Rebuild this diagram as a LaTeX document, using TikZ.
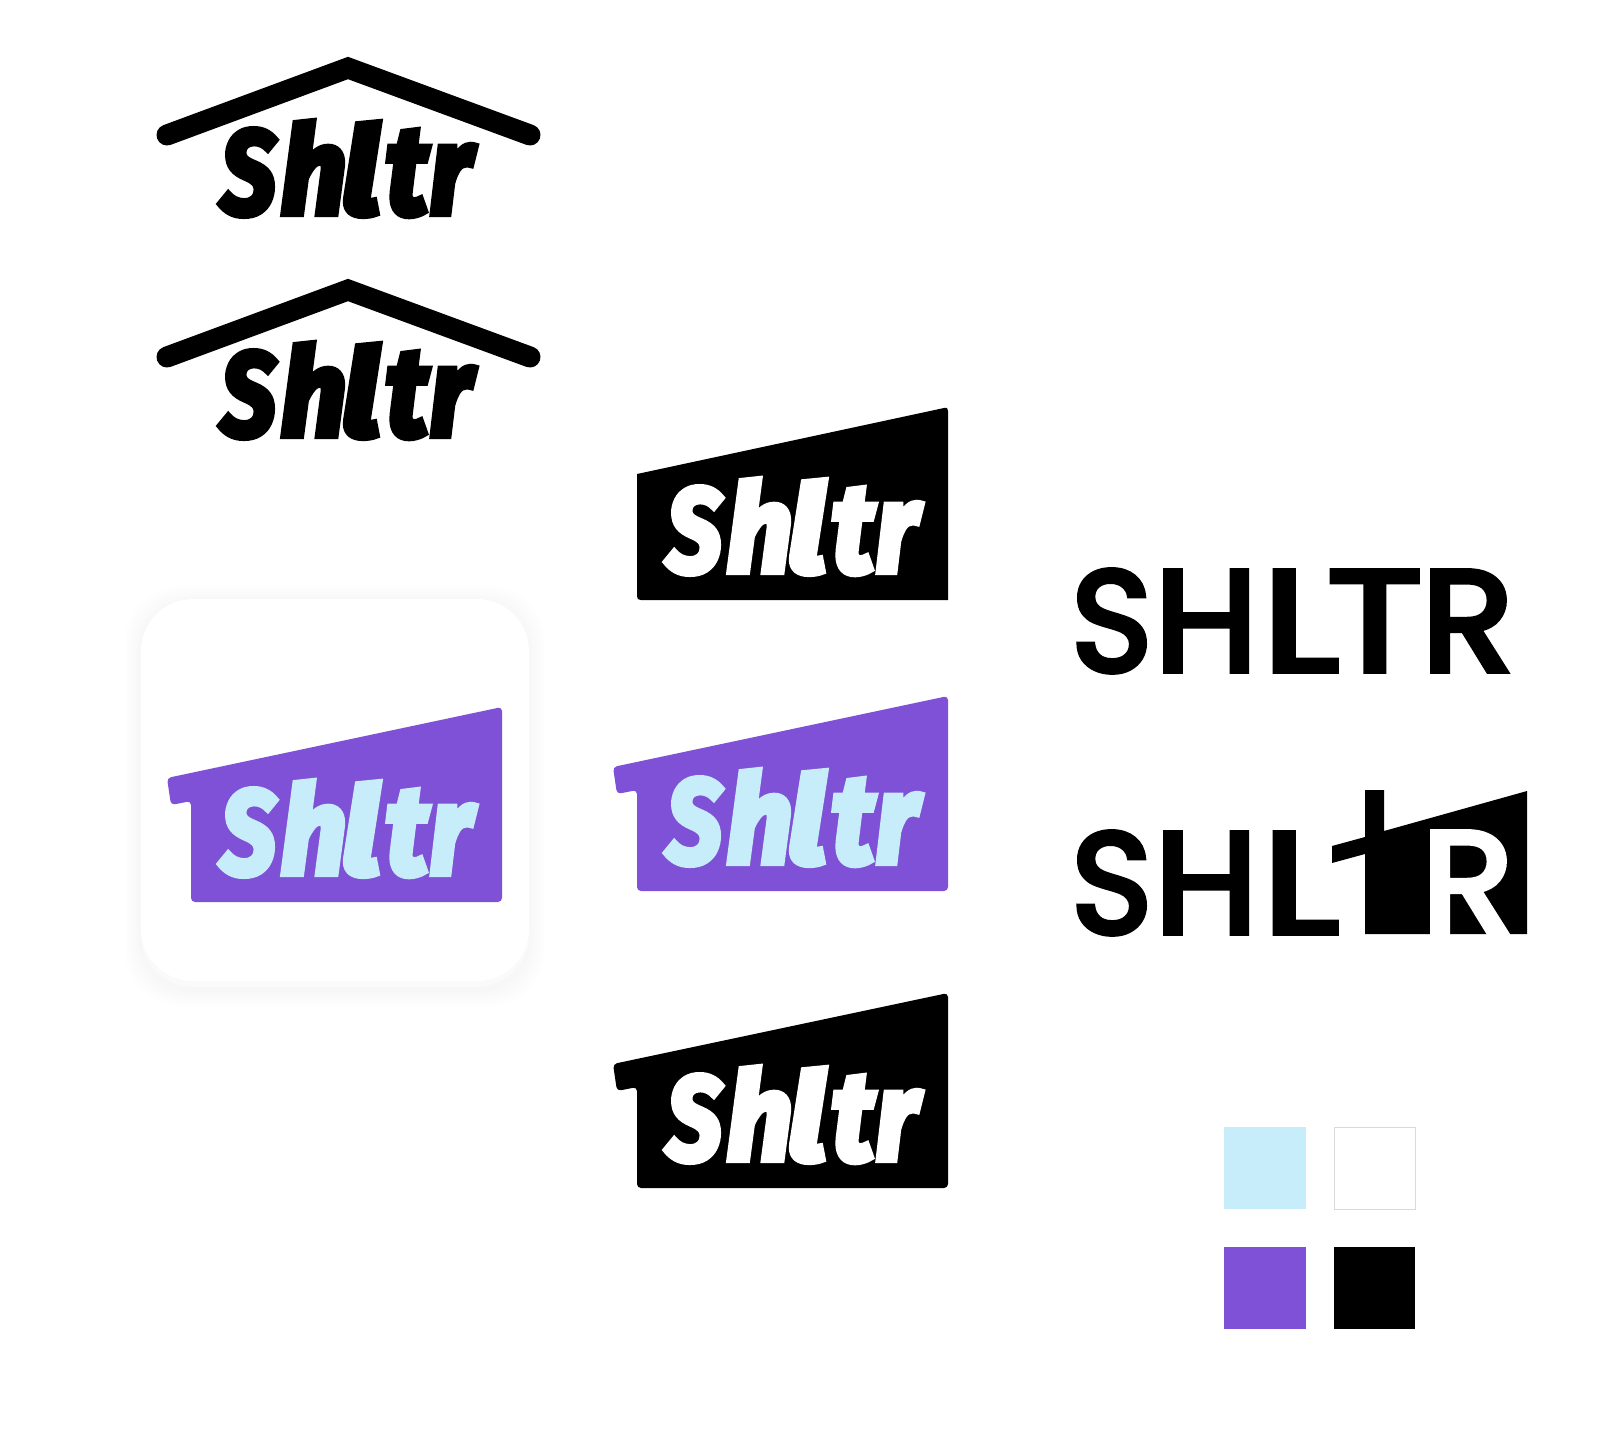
\documentclass[tikz,border=0pt]{standalone}
\usepackage{fontspec}
\usepackage{graphicx}
\newfontfamily\logof[BoldItalicFeatures={FakeBold=5}]{Fira Sans}
\newfontfamily\capsf[FakeBold=4]{Poppins}
\definecolor{sky}{HTML}{C7ECFA}
\definecolor{grape}{HTML}{7F51D6}
\definecolor{iconedge}{HTML}{FAFAFA}
\definecolor{swatchedge}{HTML}{D9D9D9}
\newcommand{\inkglyph}[1]{\hbox{\kern-\XeTeXglyphbounds1 \XeTeXcharglyph`#1\relax #1\kern-\XeTeXglyphbounds3 \XeTeXcharglyph`#1\relax}}
\newcommand{\fitglyph}[7]{\node[anchor=base west,inner sep=0pt,text=#7] (#1) at (#2,#3) {\resizebox*{#4pt}{#5pt}{#6}};}
\newcommand{\ShltrWord}[4]{%
  \begin{scope}[shift={(#2,#3)}]
  \fitglyph{#1-S}{3}{-3}{57}{87}{\logof\bfseries\itshape\inkglyph{S}}{#4}
  \fitglyph{#1-h}{67}{-3}{59}{93}{\logof\bfseries\itshape\inkglyph{h}}{#4}
  \fitglyph{#1-l}{130}{-3}{33}{94}{\logof\bfseries\itshape\inkglyph{l}}{#4}
  \fitglyph{#1-t}{172}{-3}{41}{86}{\logof\bfseries\itshape\inkglyph{t}}{#4}
  \fitglyph{#1-r}{216}{-3}{44}{69}{\logof\bfseries\itshape\inkglyph{r}}{#4}
  \end{scope}}
\newcommand{\EaveShape}[3]{%
  \fill[#3,rounded corners=4pt] (#1-49,#2-99) -- (#1+286,#2-170) -- (#1+286,#2+25) -- (#1-25,#2+25) -- (#1-25,#2-76) -- (#1-45,#2-72) -- cycle;}
\begin{document}
\begin{tikzpicture}[x=1pt,y=-1pt,
  roofline/.style={line width=21pt,line cap=round,line join=miter,miter limit=10}]
\useasboundingbox (0,0) rectangle (1600,1443);
\fill[white] (0,0) rectangle (1600,1443);
% roofs
\coordinate (r1l) at (167,135); \coordinate (r1a) at (348,68); \coordinate (r1r) at (530,135);
\draw[roofline] (r1l) -- (r1a) -- (r1r);
\ShltrWord{a}{216}{217}{black}
\coordinate (r2l) at (167,357); \coordinate (r2a) at (348,290); \coordinate (r2r) at (530,357);
\draw[roofline] (r2l) -- (r2a) -- (r2r);
\ShltrWord{b}{216}{439}{black}
% app icon
\foreach \e in {16,14,...,2}{
  \fill[black,opacity=.004,rounded corners=54pt] (141-\e,599-\e+3) rectangle (529+\e,987+\e+3);
}
\fill[iconedge,rounded corners=52pt] (141,599) rectangle (529,987);
\fill[white,rounded corners=52pt] (141,599) rectangle (529,981);
\EaveShape{216}{877}{grape}
\ShltrWord{c}{216}{877}{sky}
% black, no eave
\fill[black] (637,474) -- (944,408) .. controls (947,407.4) and (948,408) .. (948,411) -- (948,600) -- (641,600) .. controls (638,600) and (637,599) .. (637,596) -- cycle;
\ShltrWord{d}{662}{575}{white}
% purple and black eave
\EaveShape{662}{866}{grape}
\ShltrWord{e}{662}{866}{sky}
\EaveShape{662}{1163}{black}
\ShltrWord{f}{662}{1163}{white}
% wordmarks
\begin{scope}[font=\capsf]
\fitglyph{u-S}{1079}{671}{65}{102}{\inkglyph{S}}{black}
\fitglyph{u-H}{1166}{671}{80}{100}{\inkglyph{H}}{black}
\fitglyph{u-L}{1276}{671}{59}{100}{\inkglyph{L}}{black}
\fitglyph{u-T}{1333}{671}{83}{100}{\inkglyph{T}}{black}
\fitglyph{u-R}{1433}{671}{72}{100}{\inkglyph{R}}{black}
\fitglyph{v-S}{1079}{933}{65}{102}{\inkglyph{S}}{black}
\fitglyph{v-H}{1166}{933}{80}{100}{\inkglyph{H}}{black}
\fitglyph{v-L}{1276}{933}{59}{100}{\inkglyph{L}}{black}
\fill[black] (1332,846) -- (1365,837) -- (1365,790) -- (1384,790) -- (1384,831) -- (1527,791) -- (1527,934) -- (1365,934) -- (1365,854) -- (1332,863) -- cycle;
\fitglyph{v-R}{1433}{932}{72}{100}{\inkglyph{R}}{white}
\end{scope}
% swatches
\fill[sky] (1224,1127) rectangle (1306,1209);
\draw[swatchedge,line width=1pt] (1334,1127) rectangle (1415,1209);
\fill[grape] (1224,1247) rectangle (1306,1329);
\fill[black] (1334,1247) rectangle (1415,1329);
\end{tikzpicture}
\end{document}
